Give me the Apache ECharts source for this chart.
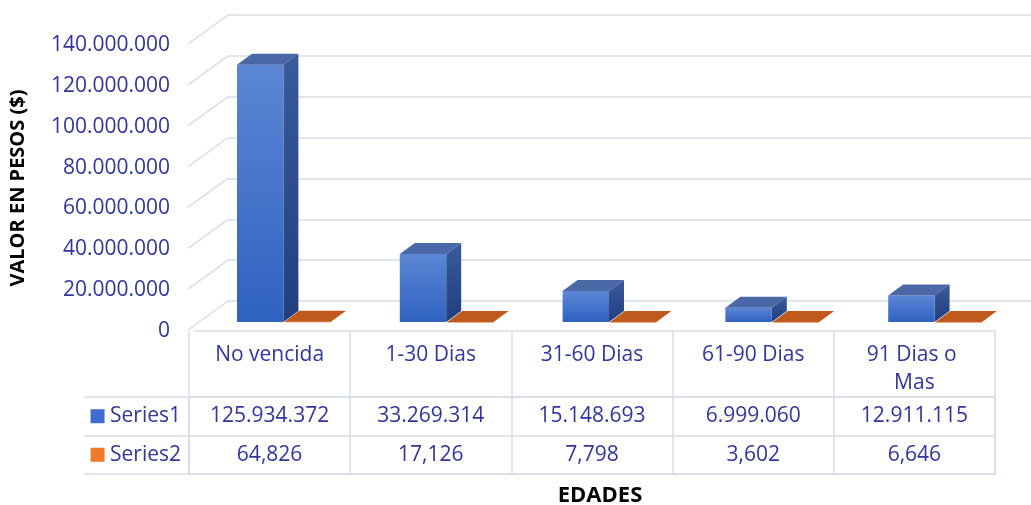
<!DOCTYPE html>
<html>
<head>
<meta charset="utf-8">
<script src="https://cdn.jsdelivr.net/npm/echarts@6/dist/echarts.min.js"></script>
<style>
  html, body { margin: 0; padding: 0; background: #fff; }
  #chart { width: 1031px; height: 505px; }
</style>
</head>
<body>
<div id="chart"></div>
<script>
const categories = ['No vencida', '1-30 Dias', '31-60 Dias', '61-90 Dias', '91 Dias o Mas']
const series1 = [125934372, 33269314, 15148693, 6999060, 12911115]
const series2 = [64826, 17126, 7798, 3602, 6646]
const seriesNames = ['Series1', 'Series2']
const yMax = 140000000
const yStep = 20000000

const textColor = '#32359a'
const gridColor = '#d9dde7'
const font = '"Open Sans", sans-serif'
const fs = 21

// 3D offsets for the bars (px)
const DX = 15
const DY = -11
// floor depth from the front plane to the back wall
const FLOOR_DX = 40
const FLOOR_DY = -29

function groupDigits(v, sep) {
  return String(v).replace(/\B(?=(\d{3})+(?!\d))/g, sep)
}

const ticks = []
for (let v = 0; v <= yMax; v += yStep) ticks.push(v)

const chart = echarts.init(document.getElementById('chart'))

function bar3d(side, faces) {
  return function (params, api) {
    const idx = api.value(0)
    const top = api.coord([idx, api.value(1)])
    const base = api.coord([idx, 0])
    const band = api.size([1, 0])[0]
    const w = band * 0.285
    const x0 = side === 0 ? top[0] - w : top[0] + 1
    const x1 = x0 + w
    const yt = top[1]
    const yb = base[1]
    return {
      type: 'group',
      children: [
        {
          type: 'polygon',
          shape: { points: [[x1, yt], [x1 + DX, yt + DY], [x1 + DX, yb + DY], [x1, yb]] },
          style: { fill: faces.side }
        },
        {
          type: 'rect',
          shape: { x: x0, y: yt, width: w, height: Math.max(yb - yt, 0.5) },
          style: { fill: faces.front }
        },
        {
          type: 'polygon',
          shape: { points: [[x0, yt], [x0 + DX, yt + DY], [x1 + DX, yt + DY], [x1, yt]] },
          style: { fill: faces.top }
        }
      ]
    }
  }
}

const blueFaces = {
  front: new echarts.graphic.LinearGradient(0, 0, 0, 1, [
    { offset: 0, color: '#5c86d5' },
    { offset: 1, color: '#2f62c0' }
  ]),
  side: new echarts.graphic.LinearGradient(0, 0, 0, 1, [
    { offset: 0, color: '#3b5a99' },
    { offset: 1, color: '#213f7e' }
  ]),
  top: '#4a67a6'
}
const orangeFaces = {
  front: '#d0661f',
  side: '#a64c12',
  top: '#bf5a1c'
}

chart.setOption({
  backgroundColor: '#fff',
  textStyle: { fontFamily: font },
  animation: false,
  title: {
    text: 'EDADES',
    left: 595,
    top: 480,
    textAlign: 'center',
    textStyle: { fontFamily: font, fontSize: 22, fontWeight: 'bold', color: '#000' }
  },
  grid: [
    // 0: front plane, carries the tick labels
    { left: 188, right: 36, top: 45, height: 286 },
    // 1: back wall
    { left: 228, right: 0, top: 15, height: 286 },
    // 2: bar plane
    { left: 202, right: 15, top: 36, height: 286 },
    // 3: data table body
    { left: 189, right: 36, top: 397, height: 77, show: true, borderColor: gridColor, borderWidth: 1.5 }
  ],
  xAxis: [
    {
      gridIndex: 0, type: 'category', data: categories,
      axisLine: { show: true, lineStyle: { color: gridColor, width: 1.5 } },
      axisTick: { show: false }, axisLabel: { show: false }
    },
    {
      gridIndex: 1, type: 'value', min: 0, max: 1, show: false
    },
    {
      gridIndex: 2, type: 'category', data: categories, show: false
    },
    {
      gridIndex: 3, type: 'category', data: categories, position: 'top',
      axisLine: { show: true, lineStyle: { color: gridColor, width: 1.5 } },
      axisTick: { show: true, length: 66, lineStyle: { color: gridColor, width: 1.5 } },
      splitLine: { show: true, lineStyle: { color: gridColor, width: 1.5 } },
      axisLabel: {
        color: textColor, fontSize: fs, fontFamily: font,
        margin: 56, verticalAlign: 'top', lineHeight: 28,
        width: 120, overflow: 'break', interval: 0
      }
    }
  ],
  yAxis: [
    {
      gridIndex: 0, type: 'value', min: 0, max: yMax, interval: yStep,
      name: 'VALOR EN PESOS ($)', nameLocation: 'middle', nameRotate: 90, nameGap: 166,
      nameTextStyle: { fontFamily: font, fontSize: 20, fontWeight: 'bold', color: '#000' },
      axisLine: { show: false }, axisTick: { show: false }, splitLine: { show: false },
      axisLabel: {
        color: textColor, fontSize: fs, fontFamily: font, margin: 24,
        formatter: (v) => groupDigits(v, '.')
      }
    },
    {
      gridIndex: 1, type: 'value', min: 0, max: yMax, interval: yStep,
      axisLine: { show: false }, axisTick: { show: false }, axisLabel: { show: false },
      splitLine: { show: true, lineStyle: { color: gridColor, width: 1.5 } }
    },
    {
      gridIndex: 2, type: 'value', min: 0, max: yMax, interval: yStep, show: false
    },
    {
      gridIndex: 3, type: 'category', data: seriesNames, inverse: true,
      axisLine: { show: true, lineStyle: { color: gridColor, width: 1.5 } },
      axisTick: { show: true, length: 105, lineStyle: { color: gridColor, width: 1.5 } },
      splitLine: { show: true, lineStyle: { color: gridColor, width: 1.5 } },
      axisLabel: {
        margin: 8, align: 'right',
        formatter: (v, i) => `{s${i}|}{t| ${v}}`,
        rich: {
          s0: { width: 14, height: 14, backgroundColor: '#3f6ccd' },
          s1: { width: 14, height: 14, backgroundColor: '#ef7a2a' },
          t: { color: textColor, fontSize: fs, fontFamily: font }
        }
      }
    },
    {
      gridIndex: 3, type: 'category', data: seriesNames, inverse: true, offset: 105,
      axisLine: { show: true, lineStyle: { color: gridColor, width: 1.5 } },
      axisTick: { show: false }, axisLabel: { show: false }, splitLine: { show: false }
    }
  ],
  series: [
    {
      // diagonal floor lines joining the front plane to the back wall
      type: 'custom', xAxisIndex: 1, yAxisIndex: 1, silent: true, z: 1,
      data: ticks.map((v) => [0, v]),
      renderItem: (params, api) => {
        const p = api.coord([0, api.value(1)])
        return {
          type: 'line',
          shape: { x1: p[0] - FLOOR_DX, y1: p[1] - FLOOR_DY, x2: p[0], y2: p[1] },
          style: { stroke: gridColor, lineWidth: 1.5 }
        }
      }
    },
    {
      name: 'Series1', type: 'custom', xAxisIndex: 2, yAxisIndex: 2, z: 3,
      data: series1.map((v, i) => [i, v]),
      renderItem: bar3d(0, blueFaces)
    },
    {
      name: 'Series2', type: 'custom', xAxisIndex: 2, yAxisIndex: 2, z: 3,
      data: series2.map((v, i) => [i, v]),
      renderItem: bar3d(1, orangeFaces)
    },
    {
      // table cell values
      type: 'custom', xAxisIndex: 3, yAxisIndex: 3, silent: true, z: 4,
      data: [
        ...series1.map((v, i) => [i, 0]),
        ...series2.map((v, i) => [i, 1])
      ],
      renderItem: (params, api) => {
        const p = api.coord([api.value(0), api.value(1)])
        const text = params.dataIndex < series1.length
          ? groupDigits(series1[params.dataIndex], '.')
          : groupDigits(series2[params.dataIndex - series1.length], ',')
        return {
          type: 'text',
          style: {
            x: p[0], y: p[1], text, align: 'center', verticalAlign: 'middle',
            fill: textColor, fontSize: fs, fontFamily: font
          }
        }
      }
    }
  ]
})
</script>
</body>
</html>
